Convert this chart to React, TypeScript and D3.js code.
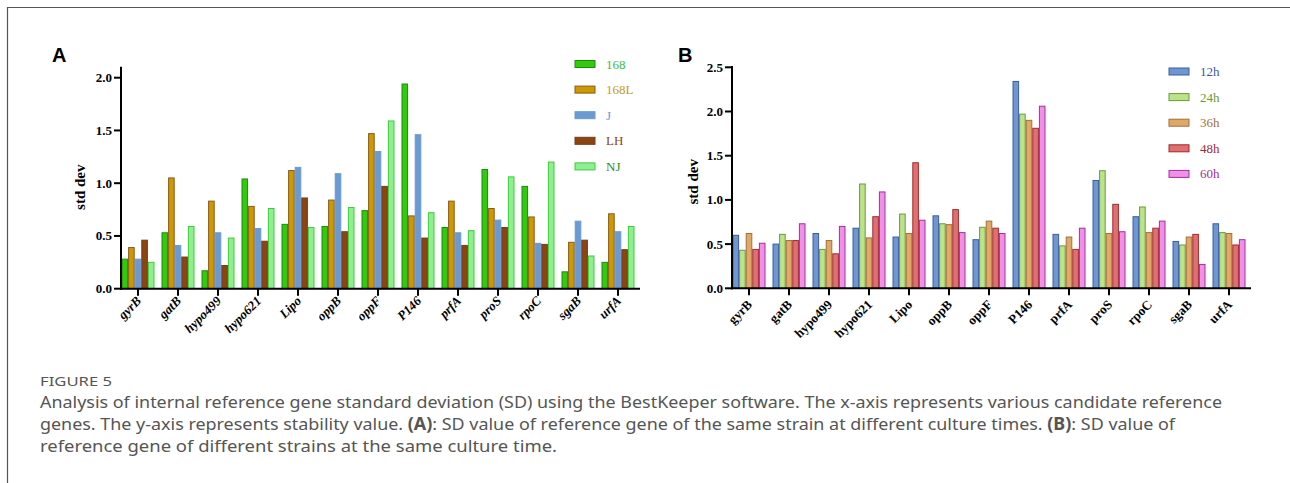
import React from "react";
import * as d3 from "d3";

const categories = ["gyrB","gatB","hypo499","hypo621","Lipo","oppB","oppF","P146","prfA","proS","rpoC","sgaB","urfA"];

// Panel A series
const seriesA = ["168", "168L", "J", "LH", "NJ"];
const a168 = [0.28,0.53,0.17,1.04,0.61,0.59,0.74,1.94,0.58,1.13,0.97,0.16,0.25];
const a168L = [0.39,1.05,0.83,0.78,1.12,0.84,1.47,0.69,0.83,0.76,0.68,0.44,0.71];
const aJ = [0.28,0.41,0.53,0.57,1.15,1.09,1.30,1.46,0.53,0.65,0.43,0.64,0.54];
const aLH = [0.46,0.30,0.22,0.45,0.86,0.54,0.97,0.48,0.41,0.58,0.42,0.46,0.37];
const aNJ = [0.25,0.59,0.48,0.76,0.58,0.77,1.59,0.72,0.55,1.06,1.20,0.31,0.59];

// Panel B series
const seriesB = ["12h", "24h", "36h", "48h", "60h"];
const b12 = [0.60,0.50,0.62,0.68,0.58,0.82,0.55,2.34,0.61,1.22,0.81,0.53,0.73];
const b24 = [0.43,0.61,0.44,1.18,0.84,0.73,0.69,1.97,0.48,1.33,0.92,0.49,0.63];
const b36 = [0.62,0.54,0.54,0.57,0.62,0.72,0.76,1.90,0.58,0.62,0.63,0.58,0.62];
const b48 = [0.44,0.54,0.39,0.81,1.42,0.89,0.68,1.81,0.44,0.95,0.68,0.61,0.49];
const b60 = [0.51,0.73,0.70,1.09,0.77,0.63,0.62,2.06,0.68,0.64,0.76,0.27,0.55];

const ticksA = [0, 0.5, 1.0, 1.5, 2.0];
const ticksB = [0, 0.5, 1.0, 1.5, 2.0, 2.5];

const styleA = [
  { fill: "#2fcb0c", stroke: "#1f8a10", text: "#3cbf2a" },
  { fill: "#cc9900", stroke: "#8a5a20", text: "#c79a1a" },
  { fill: "#6a9ad2", stroke: "#6a9ad2", text: "#6a9ad2" },
  { fill: "#8b4513", stroke: "#7a3a10", text: "#8b4513" },
  { fill: "#90ee90", stroke: "#3ccc3c", text: "#2a8a2a" },
];
const styleB = [
  { fill: "#6f96d2", stroke: "#3a5fa0", text: "#3a5a98" },
  { fill: "#bde38a", stroke: "#6a9a3a", text: "#6a9a3a" },
  { fill: "#e0a868", stroke: "#a0703a", text: "#a0703a" },
  { fill: "#e07070", stroke: "#a02a2a", text: "#a02a3a" },
  { fill: "#f090e8", stroke: "#a030a0", text: "#a03090" },
];

const serif = "'Liberation Serif', 'Times New Roman', serif";

function Panel({ letter, letterX, x0, y0, yTop, yMax, axisTop, ticks, series, values, styles, italic, legendX, legendY, titleX, labelDy }) {
  const x = d3.scaleBand().domain(categories).range([x0 + 0.5, x0 + 0.5 + 40 * 13 - 7]).paddingInner(0.175).paddingOuter(0);
  const inner = d3.scaleBand().domain(series).range([0, x.bandwidth()]).padding(0);
  const y = d3.scaleLinear().domain([0, yMax]).range([y0, yTop]);
  const axisEnd = x0 + 519;
  return (
    <g>
      <text x={letterX} y={62} fontFamily="'Liberation Sans', Arial, sans-serif" fontWeight="bold" fontSize={20} fill="#000">{letter}</text>
      {series.map((s, si) => (
        <g key={s}>
          {categories.map((c, ci) => {
            const v = values[si][ci];
            const bx = x(c) + inner(s);
            return (
              <rect key={c} x={bx + 0.5} y={y(v)} width={inner.bandwidth() - 1} height={y0 - y(v)}
                fill={styles[si].fill} stroke={styles[si].stroke} strokeWidth={1} />
            );
          })}
        </g>
      ))}
      {/* y axis */}
      <line x1={x0} x2={x0} y1={axisTop} y2={y0 + 1} stroke="#000" strokeWidth={2} />
      {ticks.map((t) => (
        <g key={t}>
          <line x1={x0 - 7} x2={x0} y1={y(t)} y2={y(t)} stroke="#000" strokeWidth={2} />
          <text x={x0 - 9} y={y(t) + 4.5} textAnchor="end" fontFamily={serif} fontWeight="bold" fontSize={13} fill="#000">{t.toFixed(1)}</text>
        </g>
      ))}
      <text transform={`translate(${titleX},${(y0 + yTop) / 2 + 4}) rotate(-90)`} textAnchor="middle" fontFamily={serif} fontWeight="bold" fontSize={15} fill="#000">std dev</text>
      {/* x axis */}
      <line x1={x0 - 1} x2={axisEnd} y1={y0} y2={y0} stroke="#000" strokeWidth={2} />
      {categories.map((c) => {
        const cx = x(c) + x.bandwidth() / 2;
        return (
          <g key={c}>
            <line x1={cx} x2={cx} y1={y0} y2={y0 + 7} stroke="#000" strokeWidth={2} />
            <text transform={`translate(${cx + 4},${y0 + labelDy}) rotate(-45)`} textAnchor="end" fontFamily={serif} fontWeight="bold" fontStyle={italic ? "italic" : "normal"} fontSize={13} fill="#000">{c}</text>
          </g>
        );
      })}
      {/* legend */}
      {series.map((s, si) => (
        <g key={s} transform={`translate(${legendX},${legendY + si * 25.6})`}>
          <rect x={0} y={-3.5} width={20} height={7} fill={styles[si].fill} stroke={styles[si].stroke} strokeWidth={1} />
          <text x={31} y={4.5} fontFamily={serif} fontSize={13} fill={styles[si].text}>{s}</text>
        </g>
      ))}
    </g>
  );
}

export default function App() {
  const capFont = "'Noto Sans', 'Open Sans', sans-serif";
  const capColor = "#555";
  return (
    <svg width={1290} height={483} style={{ position: "absolute", left: 0, top: 0, background: "#fff" }}>
      <rect x={0} y={0} width={1290} height={483} fill="#fff" />
      <line x1={7} x2={1290} y1={7.5} y2={7.5} stroke="#555" strokeWidth={1.2} />
      <line x1={7.5} x2={7.5} y1={7} y2={483} stroke="#555" strokeWidth={1.2} />
      <Panel letter="A" letterX={52} x0={121} y0={288.7} yTop={77.7} yMax={2} axisTop={66.7} ticks={ticksA}
        series={seriesA} values={[a168, a168L, aJ, aLH, aNJ]} styles={styleA} italic={true}
        legendX={575} legendY={64} titleX={85} labelDy={13} />
      <Panel letter="B" letterX={678} x0={732} y0={288.3} yTop={67.3} yMax={2.5} axisTop={66} ticks={ticksB}
        series={seriesB} values={[b12, b24, b36, b48, b60]} styles={styleB} italic={false}
        legendX={1169} legendY={71.5} titleX={698} labelDy={17} />
      <text x={40} y={386} fontFamily={capFont} fontSize={12} fill={capColor} textLength={72} lengthAdjust="spacingAndGlyphs">FIGURE 5</text>
      <text x={40} y={408} fontFamily={capFont} fontSize={17} fill={capColor} textLength={1182} lengthAdjust="spacingAndGlyphs">Analysis of internal reference gene standard deviation (SD) using the BestKeeper software. The x-axis represents various candidate reference</text>
      <text x={40} y={430} fontFamily={capFont} fontSize={17} fill={capColor} textLength={1135} lengthAdjust="spacingAndGlyphs">
        <tspan>genes. The y-axis represents stability value. </tspan>
        <tspan fontWeight="bold">(A)</tspan>
        <tspan>: SD value of reference gene of the same strain at different culture times. </tspan>
        <tspan fontWeight="bold">(B)</tspan>
        <tspan>: SD value of</tspan>
      </text>
      <text x={40} y={452} fontFamily={capFont} fontSize={17} fill={capColor} textLength={517} lengthAdjust="spacingAndGlyphs">reference gene of different strains at the same culture time.</text>
    </svg>
  );
}
